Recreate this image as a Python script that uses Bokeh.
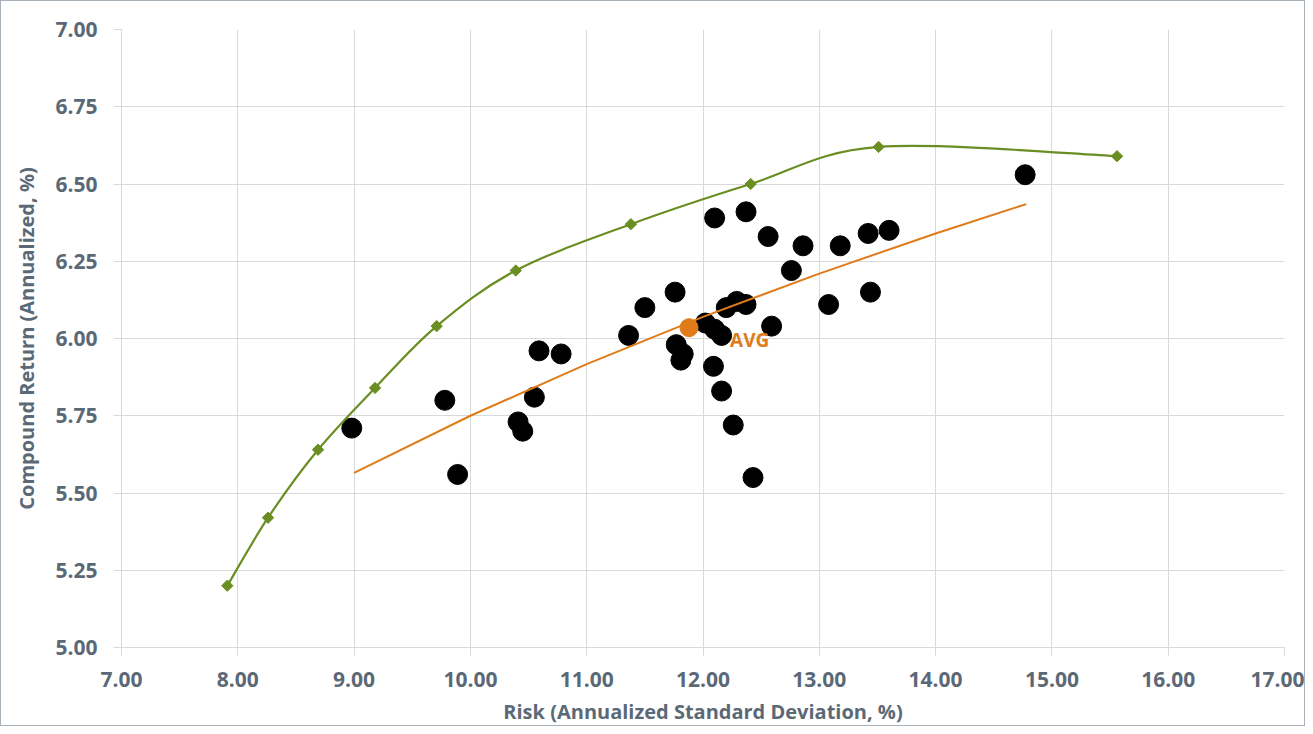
import math
from bokeh.plotting import figure
from bokeh.models import FixedTicker, NumeralTickFormatter, Range1d
from bokeh.core.properties import value
from bokeh.embed import file_html
from bokeh.resources import INLINE

# ---------------- data ----------------
risk = [8.98, 9.78, 9.89, 10.41, 10.45, 10.55, 10.59, 10.78, 11.36, 11.50,
        11.76, 11.77, 11.83, 11.81, 12.02, 12.10, 12.16, 12.20, 12.29, 12.37,
        12.10, 12.37, 12.56, 12.86, 13.18, 13.42, 13.60, 12.76, 13.44, 13.08,
        12.59, 12.09, 12.16, 12.26, 12.43, 14.77]
ret = [5.71, 5.80, 5.56, 5.73, 5.70, 5.81, 5.96, 5.95, 6.01, 6.10,
       6.15, 5.98, 5.95, 5.93, 6.05, 6.03, 6.01, 6.10, 6.12, 6.11,
       6.39, 6.41, 6.33, 6.30, 6.30, 6.34, 6.35, 6.22, 6.15, 6.11,
       6.04, 5.91, 5.83, 5.72, 5.55, 6.53]

frontier_risk = [7.91, 8.26, 8.69, 9.18, 9.71, 10.39, 11.38, 12.41, 13.51, 15.56]
frontier_ret = [5.20, 5.42, 5.64, 5.84, 6.04, 6.22, 6.37, 6.50, 6.62, 6.59]

trend_risk = [9.00, 10.00, 11.00, 12.00, 13.00, 14.00, 14.78]
trend_ret = [5.565, 5.750, 5.917, 6.070, 6.210, 6.340, 6.435]

avg_risk = [11.88]
avg_ret = [6.035]
avg_label = ["AVG"]

x_ticks = [7, 8, 9, 10, 11, 12, 13, 14, 15, 16, 17]
y_ticks = [5.00, 5.25, 5.50, 5.75, 6.00, 6.25, 6.50, 6.75, 7.00]

x_title = "Risk (Annualized Standard Deviation, %)"
y_title = "Compound Return (Annualized, %)"

# ---------------- style ----------------
TXT = "#5b6977"
GRID = "#d9d9d9"
GREEN = "#6b8e23"
ORANGE = "#e07b1a"
FONT = "Open Sans"

p = figure(width=1305, height=726, output_backend="svg", toolbar_location=None,
           x_range=Range1d(7, 17), y_range=Range1d(5, 7),
           min_border_left=120, min_border_right=22, min_border_top=28, min_border_bottom=72)
p.outline_line_color = None
p.background_fill_color = "white"
p.border_fill_color = "white"
p.styles = {"border": "1px solid #a7b0b8", "box-sizing": "border-box"}

for ax in (p.xaxis, p.yaxis):
    ax.axis_line_color = GRID
    ax.major_tick_line_color = GRID
    ax.major_tick_out = 8
    ax.major_tick_in = 0
    ax.minor_tick_line_color = None
    ax.major_label_text_font = FONT
    ax.major_label_text_font_style = "bold"
    ax.major_label_text_font_size = "21px"
    ax.major_label_text_color = TXT
    ax.axis_label_text_font = FONT
    ax.axis_label_text_font_style = "bold"
    ax.axis_label_text_font_size = "20px"
    ax.axis_label_text_color = TXT
    ax.formatter = NumeralTickFormatter(format="0.00")

p.xaxis.ticker = FixedTicker(ticks=x_ticks)
p.yaxis.ticker = FixedTicker(ticks=y_ticks)
p.xaxis.major_label_standoff = 16
p.yaxis.major_label_standoff = 16
p.xaxis.axis_label = x_title
p.yaxis.axis_label = y_title
p.xaxis.axis_label_standoff = 8
p.yaxis.axis_label_standoff = 12

p.xgrid.ticker = FixedTicker(ticks=x_ticks)
p.ygrid.ticker = FixedTicker(ticks=y_ticks)
p.xgrid.grid_line_color = GRID
p.ygrid.grid_line_color = GRID

# black scatter points
p.scatter(risk, ret, size=20, color="black")

# trend line (orange)
p.line(trend_risk, trend_ret, line_color=ORANGE, line_width=2)

# smoothed frontier via Catmull-Rom bezier segments
n = len(frontier_risk)
def pt(i):
    i = max(0, min(n - 1, i))
    return frontier_risk[i], frontier_ret[i]
x0, y0, x1, y1, cx0, cy0, cx1, cy1 = [], [], [], [], [], [], [], []
for i in range(n - 1):
    pa, pb, pc, pd = pt(i - 1), pt(i), pt(i + 1), pt(i + 2)
    x0.append(pb[0]); y0.append(pb[1]); x1.append(pc[0]); y1.append(pc[1])
    cx0.append(pb[0] + (pc[0] - pa[0]) / 6); cy0.append(pb[1] + (pc[1] - pa[1]) / 6)
    cx1.append(pc[0] - (pd[0] - pb[0]) / 6); cy1.append(pc[1] - (pd[1] - pb[1]) / 6)
p.bezier(x0=x0, y0=y0, x1=x1, y1=y1, cx0=cx0, cy0=cy0, cx1=cx1, cy1=cy1,
         line_color=GREEN, line_width=2.2)
p.scatter(frontier_risk, frontier_ret, marker="square", size=8, angle=math.pi / 4,
          color=GREEN)

# average point
p.scatter(avg_risk, avg_ret, size=18, color=ORANGE)
p.text(x=avg_risk, y=avg_ret, text=avg_label, x_offset=41, y_offset=12,
       text_font=value(FONT), text_font_style="bold", text_font_size="19px",
       text_color=ORANGE, text_baseline="middle", text_align="left")

open("out.html", "w").write(file_html(p, INLINE))
